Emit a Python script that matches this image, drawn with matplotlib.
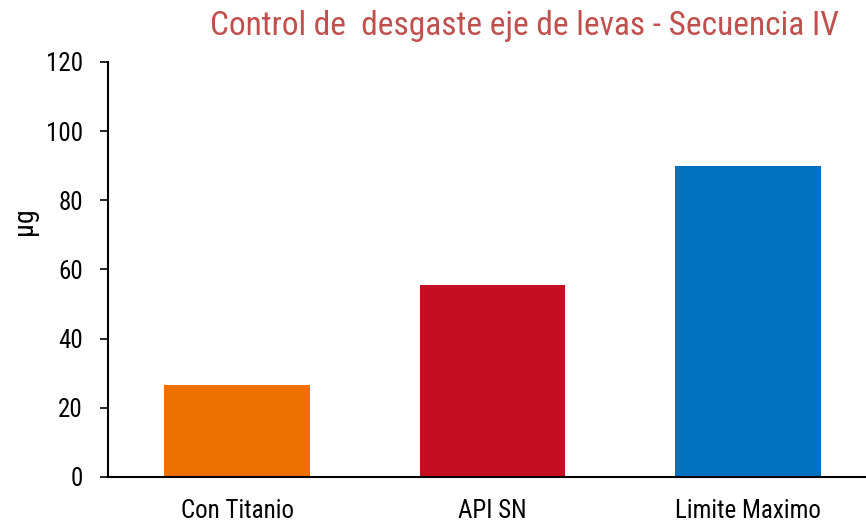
import matplotlib
matplotlib.use("Agg")
import matplotlib.pyplot as plt
from matplotlib import font_manager

# Data
categories = ["Con Titanio", "API SN", "Limite Maximo"]
values = [26.5, 55.5, 90]
colors = ["#ED7000", "#C60E22", "#0070C0"]
yticks = [0, 20, 40, 60, 80, 100, 120]

# Pick a condensed font if one is installed
names = {f.name for f in font_manager.fontManager.ttflist}
candidates = ["Roboto Condensed", "Fira Sans Condensed", "Encode Sans Condensed",
              "Barlow Semi Condensed", "PT Sans Narrow", "Archivo Narrow", "Liberation Sans Narrow"]
font = next((c for c in candidates if c in names), "DejaVu Sans")
plt.rcParams["font.family"] = [font, "DejaVu Sans"]

fig = plt.figure(figsize=(8.66, 5.26), dpi=100)
ax = fig.add_axes([0.1247, 0.0932, 0.88, 0.789])

ax.bar(range(len(categories)), values, width=0.57, color=colors)

ax.set_xlim(-0.505, 2.477)
ax.set_ylim(0, 120)
ax.set_yticks(yticks)
ax.set_xticks(range(len(categories)))
ax.set_xticklabels(categories)
ax.tick_params(axis="x", length=0, pad=16, labelsize=18)
ax.tick_params(axis="y", direction="out", length=6, width=1.2, pad=12, labelsize=18)

for side in ["top", "right"]:
    ax.spines[side].set_visible(False)
ax.spines["left"].set_linewidth(1.5)
ax.spines["bottom"].set_linewidth(1.5)

ax.set_ylabel("µg", fontsize=20)
ax.yaxis.set_label_coords(-0.092, 0.617)

fig.text(0.606, 0.95, "Control de  desgaste eje de levas - Secuencia IV",
         ha="center", va="center", fontsize=24, color="#C0504D")

fig.savefig("out.png", dpi=100)
